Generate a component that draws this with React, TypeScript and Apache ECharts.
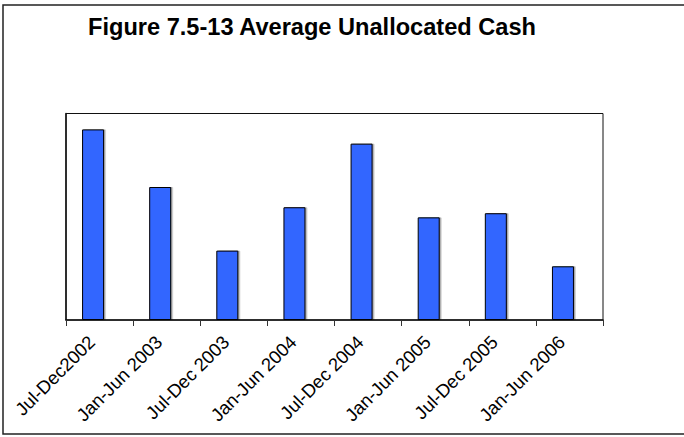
import React, { useEffect, useRef } from "react";
import * as echarts from "echarts";

const categories = [
  "Jul-Dec2002",
  "Jan-Jun 2003",
  "Jul-Dec 2003",
  "Jan-Jun 2004",
  "Jul-Dec 2004",
  "Jan-Jun 2005",
  "Jul-Dec 2005",
  "Jan-Jun 2006",
];
const cashValues = [92.3, 64.4, 33.6, 54.6, 85.4, 49.7, 51.7, 26.0];
const spacerValues = [null, null, null, null, null, null, null, null];
const titleText = "Figure 7.5-13 Average Unallocated Cash";

export default function App() {
  const ref = useRef<HTMLDivElement>(null);
  useEffect(() => {
    if (!ref.current) return;
    const chart = echarts.init(ref.current, null, { renderer: "svg" });
    chart.setOption({
      animation: false,
      backgroundColor: "#ffffff",
      graphic: [
        {
          type: "rect",
          shape: { x: 3, y: 5, width: 700, height: 429 },
          style: { fill: "none", stroke: "#222", lineWidth: 1.5 },
          z: 0,
        },
        {
          type: "text",
          x: 88,
          y: 27,
          style: {
            text: titleText,
            fontFamily: "Liberation Sans, Arial, sans-serif",
            fontWeight: "bold",
            fontSize: 23.6,
            fill: "#000",
            textVerticalAlign: "middle",
            textAlign: "left",
          },
        },
      ],
      grid: {
        left: 66,
        top: 113.5,
        right: 81,
        bottom: 117,
        show: true,
        borderColor: "#111",
        borderWidth: 1,
        backgroundColor: "transparent",
      },
      xAxis: {
        type: "category",
        data: categories,
        boundaryGap: true,
        axisLine: { show: true, lineStyle: { color: "#111", width: 1.5 } },
        axisTick: { show: true, length: 6, lineStyle: { color: "#333" } },
        axisLabel: {
          rotate: 45,
          margin: 11,
          padding: [0, 11, 0, 0],
          interval: 0,
          fontFamily: "Liberation Sans, Arial, sans-serif",
          fontSize: 18.5,
          color: "#000",
        },
        splitLine: { show: false },
      },
      yAxis: {
        type: "value",
        min: 0,
        max: 100,
        axisLine: { show: true, lineStyle: { color: "#111", width: 1.5 } },
        axisTick: { show: false },
        axisLabel: { show: false },
        splitLine: { show: false },
      },
      series: [
        {
          type: "bar",
          data: cashValues,
          barWidth: 22,
          barGap: "0%",
          itemStyle: {
            color: "#3366FF",
            borderColor: "#000",
            borderWidth: 1,
            shadowColor: "rgba(0,0,0,0.35)",
            shadowOffsetX: 1.5,
            shadowOffsetY: 0,
            shadowBlur: 0,
          },
        },
        {
          type: "bar",
          data: spacerValues,
          barWidth: 13,
          barGap: "0%",
          itemStyle: { color: "transparent" },
          silent: true,
        },
      ],
    });
    return () => chart.dispose();
  }, []);
  return (
    <div
      ref={ref}
      style={{ position: "fixed", left: 0, top: 0, width: 684, height: 437 }}
    />
  );
}
